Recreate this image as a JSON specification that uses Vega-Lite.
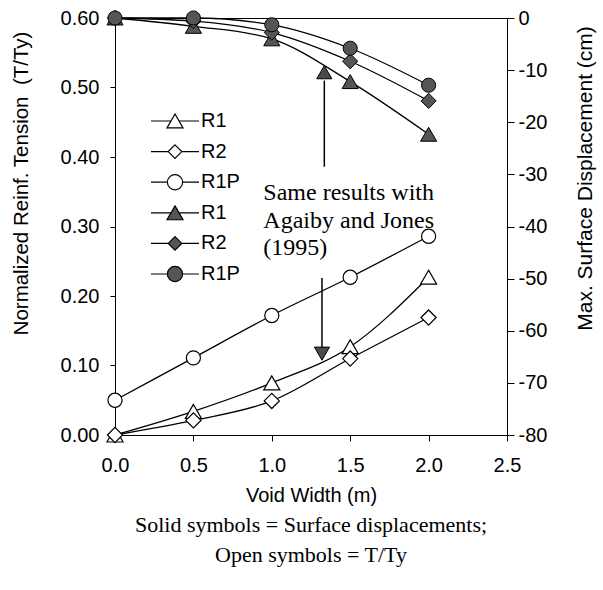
{
  "$schema": "https://vega.github.io/schema/vega-lite/v6.json",
  "width": 392,
  "height": 417,
  "autosize": {"type": "none"},
  "padding": {"left": 115, "top": 18, "right": 96, "bottom": 155},
  "background": "white",
  "config": {
    "view": {"stroke": "black", "strokeWidth": 1},
    "font": "Liberation Sans",
    "axis": {
      "labelFont": "Liberation Sans", "titleFont": "Liberation Sans",
      "labelFontSize": 20, "titleFontSize": 20,
      "labelColor": "black", "titleColor": "black", "titleFontWeight": "normal",
      "domainColor": "black", "tickColor": "black", "grid": false,
      "domainWidth": 1, "tickWidth": 1, "labelFlush": false
    }
  },
  "datasets": {
    "open": [
      {"x": 0, "s": "R1", "t": 0},
      {"x": 0.5, "s": "R1", "t": 0.034},
      {"x": 1.0, "s": "R1", "t": 0.075},
      {"x": 1.5, "s": "R1", "t": 0.127},
      {"x": 2.0, "s": "R1", "t": 0.227},
      {"x": 0, "s": "R2", "t": 0},
      {"x": 0.5, "s": "R2", "t": 0.021},
      {"x": 1.0, "s": "R2", "t": 0.049},
      {"x": 1.5, "s": "R2", "t": 0.110},
      {"x": 2.0, "s": "R2", "t": 0.169},
      {"x": 0, "s": "R1P", "t": 0.050},
      {"x": 0.5, "s": "R1P", "t": 0.111},
      {"x": 1.0, "s": "R1P", "t": 0.172},
      {"x": 1.5, "s": "R1P", "t": 0.227},
      {"x": 2.0, "s": "R1P", "t": 0.286}
    ],
    "solid": [
      {"x": 0, "s": "R1", "d": 0},
      {"x": 0.5, "s": "R1", "d": -1.6},
      {"x": 1.0, "s": "R1", "d": -4.0},
      {"x": 1.5, "s": "R1", "d": -12.2},
      {"x": 2.0, "s": "R1", "d": -22.3},
      {"x": 0, "s": "R2", "d": 0},
      {"x": 0.5, "s": "R2", "d": -0.6},
      {"x": 1.0, "s": "R2", "d": -2.8},
      {"x": 1.5, "s": "R2", "d": -8.3},
      {"x": 2.0, "s": "R2", "d": -15.9},
      {"x": 0, "s": "R1P", "d": 0},
      {"x": 0.5, "s": "R1P", "d": 0},
      {"x": 1.0, "s": "R1P", "d": -1.3},
      {"x": 1.5, "s": "R1P", "d": -5.8},
      {"x": 2.0, "s": "R1P", "d": -12.9}
    ]
  },
  "title": {
    "text": ["Solid symbols = Surface displacements;", "Open symbols = T/Ty"],
    "orient": "bottom", "anchor": "middle", "frame": "group",
    "font": "Liberation Serif", "fontSize": 22, "fontWeight": "normal", "color": "black",
    "lineHeight": 30, "offset": 10
  },
  "layer": [
    {
      "encoding": {
        "x": {
          "field": "x", "type": "quantitative",
          "scale": {"domain": [0, 2.5], "nice": false, "zero": false},
          "axis": {
            "values": [0, 0.5, 1, 1.5, 2, 2.5], "format": ".1f", "tickSize": 6, "labelPadding": 14,
            "title": "Void Width (m)", "titleX": 196, "titleY": 60, "titleBaseline": "middle", "titleAlign": "center"
          }
        },
        "y": {
          "field": "t", "type": "quantitative",
          "scale": {"domain": [0, 0.6], "nice": false, "zero": false},
          "axis": {
            "orient": "left", "values": [0, 0.1, 0.2, 0.3, 0.4, 0.5, 0.6], "format": ".2f",
            "tickSize": 5, "labelPadding": 11,
            "title": "Normalized Reinf. Tension\u00a0 (T/Ty)", "titleFontSize": 20.5,
            "titleX": -94, "titleY": 165, "titleAngle": 270, "titleBaseline": "middle", "titleAlign": "center"
          }
        }
      },
      "layer": [
        {
          "data": {"name": "open"},
          "mark": {"type": "line", "color": "black", "strokeWidth": 1.3, "interpolate": "monotone"},
          "encoding": {"detail": {"field": "s", "type": "nominal"}}
        },
        {
          "data": {"name": "open"},
          "mark": {"type": "point", "filled": true, "fill": "white", "stroke": "black", "strokeWidth": 1.2, "opacity": 1},
          "encoding": {
            "shape": {"field": "s", "type": "nominal", "scale": {"domain": ["R1", "R2", "R1P"], "range": ["triangle-up", "diamond", "circle"]}, "legend": null},
            "size": {"field": "s", "type": "nominal", "scale": {"domain": ["R1", "R2", "R1P"], "range": [260, 200, 240]}, "legend": null}
          }
        },
        {
          "data": {"values": [{"x": 0.946, "t": 0.365, "label": "Same results with\nAgaiby and Jones\n(1995)"}]},
          "mark": {"type": "text", "font": "Liberation Serif", "fontSize": 24, "align": "left", "baseline": "top", "lineBreak": "\n", "lineHeight": 27.5, "color": "black"},
          "encoding": {"text": {"field": "label", "type": "nominal"}}
        },
        {
          "data": {"values": [{"x": 1.335, "t": 0.386, "t2": 0.51}, {"x": 1.32, "t": 0.226, "t2": 0.125}]},
          "mark": {"type": "rule", "color": "black", "strokeWidth": 1.5},
          "encoding": {"y2": {"field": "t2"}}
        },
        {
          "data": {"values": [{"x": 1.335, "t": 0.522}]},
          "mark": {"type": "point", "shape": "triangle-up", "filled": true, "fill": "#4a4a4a", "stroke": "black", "strokeWidth": 1, "size": 230, "opacity": 1}
        },
        {
          "data": {"values": [{"x": 1.32, "t": 0.117}]},
          "mark": {"type": "point", "shape": "triangle-down", "filled": true, "fill": "#4a4a4a", "stroke": "black", "strokeWidth": 1, "size": 230, "opacity": 1}
        }
      ]
    },
    {
      "encoding": {
        "x": {
          "field": "x", "type": "quantitative",
          "scale": {"domain": [0, 2.5], "nice": false, "zero": false},
          "axis": {
            "values": [0, 0.5, 1, 1.5, 2, 2.5], "format": ".1f", "tickSize": 6, "labelPadding": 14,
            "title": "Void Width (m)", "titleX": 196, "titleY": 60, "titleBaseline": "middle", "titleAlign": "center"
          }
        },
        "y": {
          "field": "d", "type": "quantitative",
          "scale": {"domain": [-80, 0], "nice": false, "zero": false},
          "axis": {
            "orient": "right", "values": [0, -10, -20, -30, -40, -50, -60, -70, -80],
            "labelExpr": "'' + datum.value", "tickSize": 7, "labelPadding": 4,
            "title": "Max. Surface Displacement (cm)", "titleFontSize": 21,
            "titleX": 78, "titleY": 160, "titleAngle": 270, "titleBaseline": "middle", "titleAlign": "center"
          }
        }
      },
      "layer": [
        {
          "data": {"name": "solid"},
          "mark": {"type": "line", "color": "black", "strokeWidth": 1.3, "interpolate": "monotone"},
          "encoding": {"detail": {"field": "s", "type": "nominal"}}
        },
        {
          "data": {"name": "solid"},
          "mark": {"type": "point", "filled": true, "fill": "#555555", "stroke": "black", "strokeWidth": 1, "opacity": 1},
          "encoding": {
            "shape": {"field": "s", "type": "nominal", "scale": {"domain": ["R1", "R2", "R1P"], "range": ["triangle-up", "diamond", "circle"]}, "legend": null},
            "size": {"field": "s", "type": "nominal", "scale": {"domain": ["R1", "R2", "R1P"], "range": [260, 200, 240]}, "legend": null}
          }
        }
      ]
    },
    {
      "data": {"values": [{"k": "R1 o"}]},
      "transform": [{"filter": "false"}],
      "mark": {"type": "point", "filled": true, "stroke": "black", "strokeWidth": 1.2, "opacity": 1},
      "encoding": {
        "shape": {
          "field": "k", "type": "nominal",
          "scale": {
            "domain": ["R1 o", "R2 o", "R1P o", "R1 s", "R2 s", "R1P s"],
            "range": [
              "M-3,0H-0.5M0.5,0H3M0,-0.866L1,0.866H-1Z",
              "M-3,0H-0.85M0.85,0H3M0,-0.85L0.85,0L0,0.85L-0.85,0Z",
              "M-3,0H-0.95M0.95,0H3M0.95,0C0.95,0.525,0.525,0.95,0,0.95C-0.525,0.95,-0.95,0.525,-0.95,0C-0.95,-0.525,-0.525,-0.95,0,-0.95C0.525,-0.95,0.95,-0.525,0.95,0Z",
              "M-3,0H-0.5M0.5,0H3M0,-0.866L1,0.866H-1Z",
              "M-3,0H-0.85M0.85,0H3M0,-0.85L0.85,0L0,0.85L-0.85,0Z",
              "M-3,0H-0.95M0.95,0H3M0.95,0C0.95,0.525,0.525,0.95,0,0.95C-0.525,0.95,-0.95,0.525,-0.95,0C-0.95,-0.525,-0.525,-0.95,0,-0.95C0.525,-0.95,0.95,-0.525,0.95,0Z"
            ]
          },
          "legend": {
            "title": null, "orient": "none", "legendX": 50, "legendY": 93, "direction": "vertical",
            "symbolSize": 256, "symbolStrokeColor": "black", "symbolStrokeWidth": 1.2,
            "labelFont": "Liberation Sans", "labelFontSize": 20, "labelColor": "black",
            "labelOffset": 16, "rowPadding": 10.6, "padding": 0,
            "labelExpr": "split(datum.label, ' ')[0]"
          }
        },
        "fill": {
          "field": "k", "type": "nominal",
          "scale": {
            "domain": ["R1 o", "R2 o", "R1P o", "R1 s", "R2 s", "R1P s"],
            "range": ["white", "white", "white", "#555555", "#555555", "#555555"]
          },
          "legend": {
            "title": null, "orient": "none", "legendX": 50, "legendY": 93, "direction": "vertical",
            "symbolSize": 256, "symbolStrokeColor": "black", "symbolStrokeWidth": 1.2,
            "labelFont": "Liberation Sans", "labelFontSize": 20, "labelColor": "black",
            "labelOffset": 16, "rowPadding": 10.6, "padding": 0,
            "labelExpr": "split(datum.label, ' ')[0]"
          }
        },
        "stroke": {
          "field": "k", "type": "nominal",
          "scale": {
            "domain": ["R1 o", "R2 o", "R1P o", "R1 s", "R2 s", "R1P s"],
            "range": ["black", "black", "black", "black", "black", "black"]
          },
          "legend": {
            "title": null, "orient": "none", "legendX": 50, "legendY": 93, "direction": "vertical",
            "symbolSize": 256, "symbolStrokeColor": "black", "symbolStrokeWidth": 1.2,
            "labelFont": "Liberation Sans", "labelFontSize": 20, "labelColor": "black",
            "labelOffset": 16, "rowPadding": 10.6, "padding": 0,
            "labelExpr": "split(datum.label, ' ')[0]"
          }
        }
      }
    }
  ],
  "resolve": {"scale": {"y": "independent", "shape": "independent", "fill": "independent", "size": "independent", "stroke": "independent"}}
}
